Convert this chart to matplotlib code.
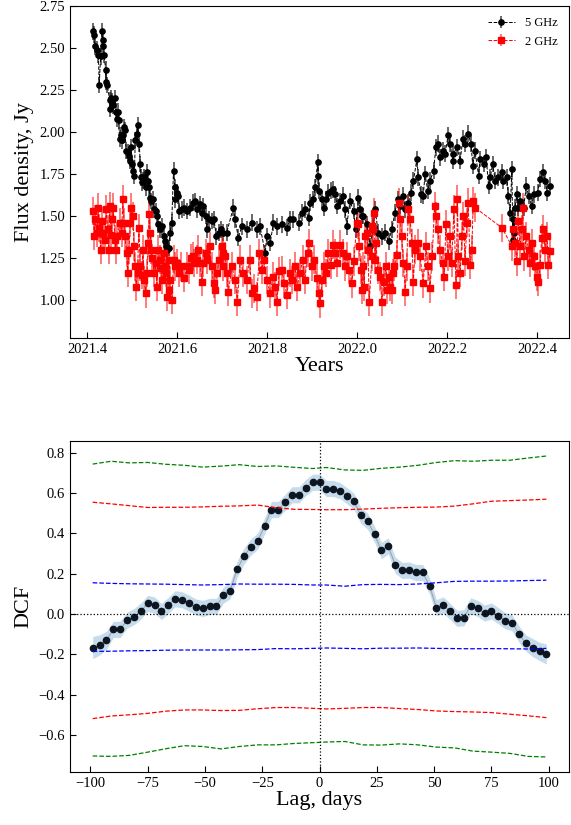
import numpy as np
import matplotlib
matplotlib.use('Agg')
import matplotlib.pyplot as plt

plt.rcParams['font.family'] = ['Liberation Serif', 'DejaVu Serif']
plt.rcParams['mathtext.fontset'] = 'stix'

# ---- light curves ----
t5 = [2021.413, 2021.416, 2021.418, 2021.422, 2021.425, 2021.427, 2021.430, 2021.433, 2021.435, 2021.436,
      2021.438, 2021.441, 2021.442, 2021.445, 2021.450, 2021.451, 2021.453, 2021.456, 2021.458, 2021.461,
      2021.464, 2021.466, 2021.468, 2021.470, 2021.472, 2021.475, 2021.477, 2021.479, 2021.482, 2021.484,
      2021.487, 2021.490, 2021.492, 2021.496, 2021.498, 2021.500, 2021.503, 2021.505, 2021.507, 2021.510,
      2021.513, 2021.516, 2021.518, 2021.520, 2021.523, 2021.525, 2021.527, 2021.530, 2021.533, 2021.535,
      2021.538, 2021.540, 2021.543, 2021.546, 2021.549, 2021.553, 2021.556, 2021.558, 2021.562, 2021.566,
      2021.570, 2021.573, 2021.576, 2021.577, 2021.581, 2021.584, 2021.588, 2021.592, 2021.595, 2021.596,
      2021.599, 2021.603, 2021.605, 2021.610, 2021.616, 2021.622, 2021.629, 2021.636, 2021.640, 2021.644,
      2021.650, 2021.655, 2021.658, 2021.664, 2021.666, 2021.670, 2021.677, 2021.682, 2021.687, 2021.692,
      2021.697, 2021.703, 2021.710, 2021.725, 2021.729, 2021.736, 2021.744, 2021.755, 2021.766, 2021.777,
      2021.784, 2021.796, 2021.799, 2021.807, 2021.814, 2021.822, 2021.833, 2021.844, 2021.851, 2021.858,
      2021.870, 2021.877, 2021.884, 2021.892, 2021.896, 2021.903, 2021.907, 2021.912, 2021.914, 2021.916,
      2021.922, 2021.927, 2021.931, 2021.936, 2021.942, 2021.947, 2021.951, 2021.956, 2021.962, 2021.968,
      2021.973, 2021.977, 2021.984, 2021.992, 2021.997, 2022.003, 2022.007, 2022.010, 2022.014, 2022.022,
      2022.029, 2022.036, 2022.040, 2022.047, 2022.055, 2022.062, 2022.070, 2022.077, 2022.084, 2022.090,
      2022.096, 2022.103, 2022.107, 2022.114, 2022.120, 2022.125, 2022.133, 2022.136, 2022.142, 2022.147,
      2022.151, 2022.157, 2022.162, 2022.170, 2022.175, 2022.179, 2022.184, 2022.190, 2022.196, 2022.202,
      2022.207, 2022.212, 2022.214, 2022.222, 2022.229, 2022.235, 2022.240, 2022.247, 2022.253, 2022.257,
      2022.262, 2022.270, 2022.273, 2022.281, 2022.287, 2022.292, 2022.296, 2022.301, 2022.307, 2022.314,
      2022.322, 2022.325, 2022.333, 2022.336, 2022.340, 2022.344, 2022.346, 2022.347, 2022.349, 2022.351,
      2022.355, 2022.358, 2022.362, 2022.370, 2022.376, 2022.381, 2022.388, 2022.393, 2022.401, 2022.407,
      2022.413, 2022.418, 2022.423, 2022.429]
f5 = [2.60, 2.58, 2.51, 2.49, 2.46, 2.28, 2.45, 2.60, 2.55, 2.51,
      2.46, 2.37, 2.30, 2.28, 2.19, 2.14, 2.20, 2.18, 2.16, 2.20,
      2.12, 2.08, 2.12, 2.07, 1.96, 1.98, 1.95, 1.98, 2.03, 2.01,
      1.89, 1.88, 1.86, 1.83, 1.91, 1.81, 1.77, 1.74, 1.95, 1.99,
      2.04, 1.93, 1.81, 1.73, 1.70, 1.71, 1.73, 1.67, 1.76, 1.71,
      1.67, 1.61, 1.59, 1.60, 1.54, 1.53, 1.50, 1.45, 1.42, 1.44,
      1.38, 1.35, 1.32, 1.30, 1.31, 1.40, 1.46, 1.77, 1.67, 1.60,
      1.64, 1.62, 1.53, 1.54, 1.55, 1.53, 1.55, 1.58, 1.59, 1.54,
      1.57, 1.52, 1.56, 1.50, 1.42, 1.48, 1.47, 1.48, 1.38, 1.40,
      1.42, 1.40, 1.40, 1.55, 1.48, 1.37, 1.44, 1.42, 1.46, 1.42,
      1.44, 1.28, 1.38, 1.34, 1.46, 1.44, 1.45, 1.43, 1.48, 1.48,
      1.46, 1.52, 1.54, 1.49, 1.58, 1.60, 1.67, 1.82, 1.74, 1.65,
      1.60, 1.55, 1.60, 1.64, 1.65, 1.66, 1.63, 1.56, 1.59, 1.62,
      1.54, 1.44, 1.59, 1.53, 1.42, 1.61, 1.54, 1.50, 1.50, 1.45,
      1.32, 1.44, 1.54, 1.40, 1.38, 1.40, 1.35, 1.42, 1.52, 1.60,
      1.56, 1.62, 1.54, 1.58, 1.64, 1.71, 1.84, 1.73, 1.63, 1.62,
      1.75, 1.65, 1.71, 1.77, 1.91, 1.93, 1.85, 1.89, 1.87, 1.98,
      1.93, 1.83, 1.87, 1.91, 1.83, 1.96, 1.93, 1.99, 1.93, 1.80,
      1.89, 1.74, 1.84, 1.81, 1.85, 1.68, 1.73, 1.81, 1.71, 1.73,
      1.76, 1.71, 1.73, 1.62, 1.52, 1.78, 1.36, 1.48, 1.40, 1.55,
      1.63, 1.55, 1.59, 1.55, 1.68, 1.62, 1.56, 1.63, 1.64, 1.72,
      1.76, 1.71, 1.64, 1.68]
err5 = 0.05

t2 = [2021.413, 2021.416, 2021.418, 2021.422, 2021.425, 2021.427, 2021.430, 2021.433, 2021.436, 2021.440,
      2021.442, 2021.446, 2021.448, 2021.450, 2021.453, 2021.456, 2021.458, 2021.462, 2021.464, 2021.467,
      2021.473, 2021.477, 2021.479, 2021.482, 2021.484, 2021.488, 2021.490, 2021.493, 2021.496, 2021.498,
      2021.502, 2021.504, 2021.507, 2021.509, 2021.512, 2021.515, 2021.518, 2021.521, 2021.524, 2021.527,
      2021.530, 2021.533, 2021.536, 2021.538, 2021.540, 2021.542, 2021.545, 2021.549, 2021.552, 2021.555,
      2021.558, 2021.561, 2021.564, 2021.567, 2021.570, 2021.573, 2021.576, 2021.578, 2021.581, 2021.583,
      2021.584, 2021.589, 2021.592, 2021.596, 2021.599, 2021.604, 2021.608, 2021.616, 2021.622, 2021.627,
      2021.631, 2021.635, 2021.638, 2021.644, 2021.647, 2021.651, 2021.655, 2021.658, 2021.664, 2021.667,
      2021.672, 2021.677, 2021.681, 2021.685, 2021.688, 2021.694, 2021.699, 2021.701, 2021.703, 2021.707,
      2021.710, 2021.714, 2021.722, 2021.729, 2021.734, 2021.740, 2021.747, 2021.755, 2021.761, 2021.766,
      2021.770, 2021.777, 2021.783, 2021.788, 2021.792, 2021.799, 2021.807, 2021.813, 2021.818, 2021.822,
      2021.827, 2021.833, 2021.838, 2021.844, 2021.850, 2021.855, 2021.862, 2021.867, 2021.873, 2021.879,
      2021.884, 2021.890, 2021.894, 2021.899, 2021.904, 2021.910, 2021.915, 2021.918, 2021.922, 2021.927,
      2021.931, 2021.936, 2021.942, 2021.947, 2021.951, 2021.956, 2021.962, 2021.968, 2021.973, 2021.977,
      2021.983, 2021.988, 2021.993, 2021.999, 2022.003, 2022.005, 2022.009, 2022.011, 2022.014, 2022.016,
      2022.018, 2022.022, 2022.024, 2022.027, 2022.033, 2022.034, 2022.036, 2022.038, 2022.040, 2022.042,
      2022.046, 2022.051, 2022.055, 2022.060, 2022.064, 2022.067, 2022.071, 2022.073, 2022.077, 2022.079,
      2022.083, 2022.088, 2022.092, 2022.096, 2022.099, 2022.103, 2022.107, 2022.110, 2022.114, 2022.118,
      2022.122, 2022.125, 2022.129, 2022.135, 2022.140, 2022.147, 2022.153, 2022.157, 2022.162, 2022.167,
      2022.172, 2022.175, 2022.179, 2022.184, 2022.190, 2022.194, 2022.197, 2022.202, 2022.207, 2022.210,
      2022.215, 2022.220, 2022.223, 2022.225, 2022.229, 2022.233, 2022.236, 2022.240, 2022.244, 2022.247,
      2022.251, 2022.255, 2022.258, 2022.262, 2022.322, 2022.344, 2022.347, 2022.351, 2022.355, 2022.358,
      2022.362, 2022.366, 2022.368, 2022.371, 2022.376, 2022.381, 2022.384, 2022.388, 2022.392, 2022.396,
      2022.399, 2022.403, 2022.407, 2022.410, 2022.414, 2022.418, 2022.422, 2022.425, 2022.429]
f2 = [1.53, 1.38, 1.48, 1.40, 1.55, 1.43, 1.30, 1.47, 1.40, 1.36,
      1.54, 1.42, 1.30, 1.56, 1.39, 1.48, 1.55, 1.36, 1.30, 1.38,
      1.46, 1.40, 1.60, 1.46, 1.38, 1.28, 1.16, 1.30, 1.46, 1.55,
      1.50, 1.32, 1.20, 1.08, 1.16, 1.43, 1.20, 1.15, 1.30, 1.12,
      1.04, 1.16, 1.34, 1.51, 1.40, 1.30, 1.25, 1.16, 1.22, 1.08,
      1.30, 1.24, 1.19, 1.12, 1.28, 1.20, 1.16, 1.02, 1.06, 1.24,
      1.12, 1.00, 1.24, 1.20, 1.22, 1.16, 1.20, 1.13, 1.20, 1.18,
      1.25, 1.26, 1.22, 1.24, 1.30, 1.22, 1.11, 1.22, 1.28, 1.24,
      1.32, 1.20, 1.10, 1.06, 1.16, 1.24, 1.32, 1.20, 1.28, 1.26,
      1.16, 1.05, 1.20, 1.12, 0.99, 1.24, 1.16, 1.12, 1.24, 1.04,
      1.07, 1.02, 1.28, 1.18, 1.24, 1.12, 1.04, 1.14, 1.08, 0.99,
      1.17, 1.18, 1.10, 1.03, 1.16, 1.12, 1.20, 1.08, 1.16, 1.24,
      1.12, 1.28, 1.34, 1.20, 1.24, 1.13, 1.04, 0.98, 1.12, 1.20,
      1.16, 1.28, 1.21, 1.33, 1.28, 1.22, 1.33, 1.28, 1.20, 1.26,
      1.18, 1.10, 1.23, 1.46, 1.45, 1.32, 1.18, 1.06, 1.20, 1.08,
      1.38, 1.40, 1.30, 0.99, 1.26, 1.44, 1.42, 1.52, 1.24, 1.34,
      1.18, 1.14, 0.99, 1.11, 1.20, 1.06, 1.14, 1.08, 1.06, 1.16,
      1.20, 1.27, 1.58, 1.48, 1.38, 1.22, 1.05, 1.20, 1.54, 1.48,
      1.34, 1.11, 1.30, 1.34, 1.26, 1.10, 1.32, 1.20, 1.07, 1.26,
      1.56, 1.50, 1.42, 1.30, 1.22, 1.14, 1.45, 1.26, 1.38, 1.22,
      1.54, 1.09, 1.60, 1.26, 1.16, 1.38, 1.50, 1.23, 1.46, 1.58,
      1.21, 1.30, 1.59, 1.55, 1.43, 1.32, 1.42, 1.34, 1.23, 1.47,
      1.32, 1.42, 1.55, 1.26, 1.38, 1.30, 1.22, 1.34, 1.26, 1.20,
      1.14, 1.11, 1.21, 1.37, 1.42, 1.30, 1.38, 1.21, 1.29]
err2 = 0.085

# ---- DCF ----
lag = [-99, -96, -93, -90, -87, -84, -81, -78, -75, -72, -69, -66, -63, -60, -57, -54, -51,
       -48, -45, -42, -39, -36, -33, -30, -27, -24, -21, -18, -15, -12, -9, -6, -3, 0,
       3, 6, 9, 12, 15, 18, 21, 24, 27, 30, 33, 36, 39, 42, 45, 48, 51,
       54, 57, 60, 63, 66, 69, 72, 75, 78, 81, 84, 87, 90, 93, 96, 99]
dcf = [-0.166, -0.153, -0.130, -0.076, -0.076, -0.030, -0.013, 0.015, 0.053, 0.045, 0.013, 0.043,
       0.076, 0.071, 0.054, 0.035, 0.028, 0.038, 0.038, 0.094, 0.116, 0.221, 0.287, 0.332, 0.361,
       0.436, 0.518, 0.518, 0.554, 0.591, 0.591, 0.627, 0.653, 0.653,
       0.622, 0.622, 0.611, 0.586, 0.559, 0.489, 0.460, 0.395, 0.315, 0.337, 0.243, 0.216, 0.218,
       0.206, 0.206, 0.140, 0.032, 0.045, 0.013, -0.021, -0.018, 0.041, 0.028, 0.005, 0.015,
       -0.008, -0.033, -0.043, -0.099, -0.143, -0.166, -0.185, -0.198]
dcf_err = [0.055, 0.05, 0.045] + [0.04] * 61 + [0.045, 0.045, 0.05]

sig_lag = [-99, -91, -83, -75, -67, -59, -51, -43, -35, -27, -19, -11, -3,
           3, 11, 19, 27, 35, 43, 51, 59, 67, 75, 83, 91, 99]
green_hi = [0.743, 0.757, 0.749, 0.751, 0.742, 0.737, 0.728, 0.733, 0.740, 0.731, 0.734, 0.727, 0.721,
            0.726, 0.714, 0.712, 0.722, 0.728, 0.737, 0.751, 0.760, 0.757, 0.762, 0.762, 0.773, 0.783]
red_hi = [0.554, 0.546, 0.537, 0.528, 0.529, 0.529, 0.531, 0.534, 0.536, 0.540, 0.527, 0.519, 0.518,
          0.517, 0.517, 0.520, 0.524, 0.527, 0.529, 0.530, 0.535, 0.546, 0.559, 0.562, 0.565, 0.569]
blue_hi = [0.155, 0.152, 0.150, 0.149, 0.148, 0.146, 0.144, 0.146, 0.149, 0.148, 0.148, 0.147, 0.144,
           0.144, 0.138, 0.146, 0.147, 0.146, 0.149, 0.155, 0.162, 0.163, 0.163, 0.164, 0.166, 0.168]
blue_lo = [-0.185, -0.184, -0.182, -0.181, -0.179, -0.178, -0.178, -0.178, -0.177, -0.176, -0.171, -0.172, -0.170,
           -0.168, -0.170, -0.172, -0.169, -0.169, -0.168, -0.170, -0.171, -0.172, -0.171, -0.172, -0.173, -0.170]
red_lo = [-0.518, -0.505, -0.499, -0.492, -0.481, -0.475, -0.475, -0.478, -0.477, -0.469, -0.463, -0.463, -0.467,
          -0.470, -0.467, -0.463, -0.463, -0.468, -0.473, -0.480, -0.483, -0.485, -0.488, -0.496, -0.504, -0.513]
green_lo = [-0.703, -0.705, -0.700, -0.684, -0.667, -0.652, -0.656, -0.668, -0.656, -0.648, -0.648, -0.641, -0.637,
            -0.634, -0.631, -0.648, -0.649, -0.643, -0.648, -0.659, -0.663, -0.679, -0.684, -0.690, -0.705, -0.708]

fig = plt.figure(figsize=(5.71, 8.25), dpi=100)
ax1 = fig.add_axes([0.1226, 0.5903, 0.874, 0.4024])
ax2 = fig.add_axes([0.1226, 0.0642, 0.874, 0.4013])

ax1.errorbar(t5, f5, yerr=err5, fmt='o--', color='k', ecolor=(0, 0, 0, 0.75), ms=3.8, lw=0.7,
             elinewidth=1.1, capsize=0, label='5 GHz')
ax1.errorbar(t2, f2, yerr=err2, fmt='s--', color='red', ecolor=(1, 0, 0, 0.65), ms=3.8, lw=0.7,
             elinewidth=1.1, capsize=0, label='2 GHz')
ax1.set_xlim(2021.362, 2022.471)
ax1.set_ylim(0.774, 2.75)
ax1.set_xticks([2021.4, 2021.6, 2021.8, 2022.0, 2022.2, 2022.4])
ax1.set_xticklabels(['2021.4', '2021.6', '2021.8', '2022.0', '2022.2', '2022.4'])
ax1.set_yticks([1.00, 1.25, 1.50, 1.75, 2.00, 2.25, 2.50, 2.75])
ax1.set_xlabel('Years', fontsize=16, labelpad=1)
ax1.set_ylabel('Flux density, Jy', fontsize=16, labelpad=4)
ax1.legend(loc='upper right', frameon=False, fontsize=9, handlelength=2.2)

lag_a = np.array(lag)
dcf_a = np.array(dcf)
err_a = np.array(dcf_err)
ax2.fill_between(lag_a, dcf_a - err_a, dcf_a + err_a, color='C0', alpha=0.25, lw=0)
ax2.plot(lag_a, dcf_a, color='gray', lw=0.8, alpha=0.6)
ax2.plot(lag_a, dcf_a, 'o', color='#0d1520', ms=4.5)
ax2.plot(sig_lag, green_hi, '--', color='green', lw=0.9)
ax2.plot(sig_lag, green_lo, '--', color='green', lw=0.9)
ax2.plot(sig_lag, red_hi, '--', color='red', lw=0.9)
ax2.plot(sig_lag, red_lo, '--', color='red', lw=0.9)
ax2.plot(sig_lag, blue_hi, '--', color='blue', lw=0.9)
ax2.plot(sig_lag, blue_lo, '--', color='blue', lw=0.9)
ax2.axhline(0, color='k', ls=':', lw=0.9)
ax2.axvline(0, color='k', ls=':', lw=0.9)
ax2.set_xticks([-100, -75, -50, -25, 0, 25, 50, 75, 100])
ax2.set_yticks([-0.6, -0.4, -0.2, 0.0, 0.2, 0.4, 0.6, 0.8])
ax2.set_xlabel('Lag, days', fontsize=16, labelpad=1)
ax2.set_ylabel('DCF', fontsize=16, labelpad=4)

for ax in (ax1, ax2):
    ax.tick_params(direction='in', labelsize=10.5, length=4, width=0.8)

plt.savefig('out.png', dpi=100)
